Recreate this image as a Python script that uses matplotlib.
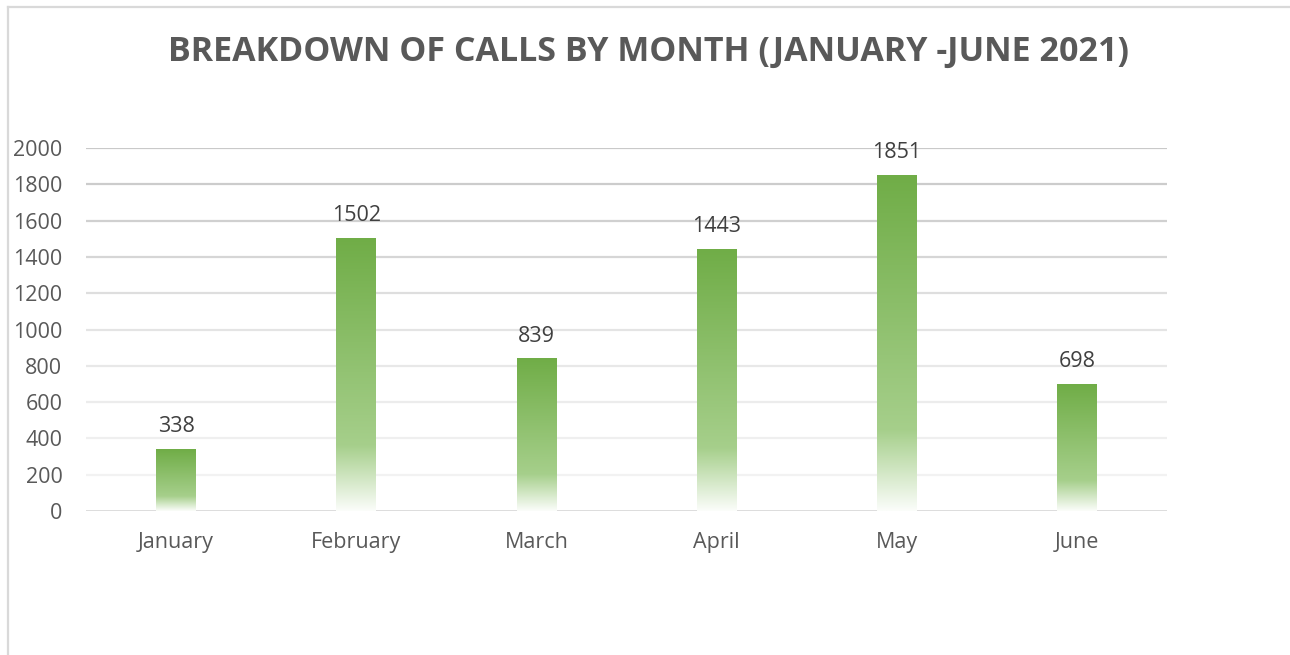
import matplotlib
matplotlib.use("Agg")
import matplotlib.pyplot as plt
import numpy as np
from matplotlib.colors import LinearSegmentedColormap
from matplotlib.lines import Line2D

months = ["January", "February", "March", "April", "May", "June"]
calls = [338, 1502, 839, 1443, 1851, 698]
yticks = [0, 200, 400, 600, 800, 1000, 1200, 1400, 1600, 1800, 2000]
title = "BREAKDOWN OF CALLS BY MONTH (JANUARY -JUNE 2021)"

plt.rcParams['font.family'] = ['Open Sans', 'DejaVu Sans']

W, H = 1290, 655
fig = plt.figure(figsize=(W / 100, H / 100), dpi=100)
fig.patch.set_facecolor("white")

# outer chart border (left and top visible)
fig.add_artist(Line2D([7.5 / W, 7.5 / W], [0, 1 - 6.5 / H], transform=fig.transFigure,
                      color="#d9d9d9", lw=1.6))
fig.add_artist(Line2D([7.5 / W, 1], [1 - 6.5 / H, 1 - 6.5 / H], transform=fig.transFigure,
                      color="#d9d9d9", lw=1.6))

left, right = 86 / W, 1167 / W
bottom, top = (H - 511) / H, (H - 148) / H
ax = fig.add_axes([left, bottom, right - left, top - bottom])
ax.set_xlim(-0.5, len(months) - 0.5)
ax.set_ylim(0, 2000)

# gridlines (darker toward the top, as in the reference)
grid_cols = ["#d9d9d9", "#f2f2f2", "#efefef", "#ececec", "#e8e8e8", "#e4e4e4",
             "#dedede", "#d6d6d6", "#d0d0d0", "#cccccc", "#c9c9c9"]
for v, c in zip(yticks, grid_cols):
    ax.axhline(v, color=c, lw=1.6 if v else 2.0, zorder=1)

for s in ax.spines.values():
    s.set_visible(False)

cmap = LinearSegmentedColormap.from_list(
    "grad", [(0.0, "#70ad47"), (0.76, "#a6cf8b"), (1.0, "#fbfdfa")])
grad = np.linspace(0, 1, 256).reshape(-1, 1)

bw = 0.22
for i, v in enumerate(calls):
    ax.imshow(grad, cmap=cmap, aspect="auto", interpolation="bilinear",
              extent=[i - bw / 2, i + bw / 2, 0, v], origin="upper", zorder=2)
    ax.text(i, v + 125, str(v), ha="center", va="center", fontsize=15.5,
            color="#404040", zorder=3)

ax.set_xlim(-0.5, len(months) - 0.5)
ax.set_ylim(0, 2000)
ax.set_xticks(range(len(months)))
ax.set_xticklabels(months, fontsize=15.5, color="#595959")
ax.set_yticks(yticks)
ax.set_yticklabels([str(t) for t in yticks], fontsize=15.5, color="#595959")
ax.tick_params(axis="both", length=0)
ax.tick_params(axis="x", pad=15)
ax.tick_params(axis="y", pad=17)

fig.text(649 / W, 1 - 52 / H, title, ha="center", va="center", fontsize=24.5,
         fontweight="bold", color="#595959")

fig.savefig("out.png", dpi=100, facecolor="white")
